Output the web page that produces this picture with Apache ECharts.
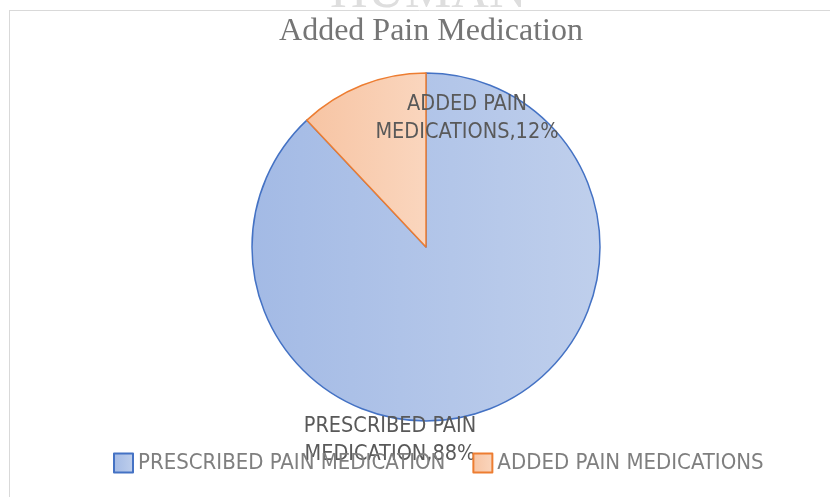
<!DOCTYPE html>
<html>
<head>
<meta charset="utf-8">
<script src="https://cdn.jsdelivr.net/npm/echarts@6/dist/echarts.min.js"></script>
<style>
  html, body { margin: 0; padding: 0; background: #fff; }
  #chart { width: 830px; height: 497px; }
</style>
</head>
<body>
<div id="chart"></div>
<script>
// data
var categories = ['PRESCRIBED PAIN MEDICATION', 'ADDED PAIN MEDICATIONS'];
var shares = [88, 12];
var titleText = 'Added Pain Medication';

var fills = [
  { from: '#a3bae5', to: '#bfcfec', stroke: '#4472c4' },
  { from: '#f7c4a3', to: '#fad6be', stroke: '#ed7d31' }
];
// where the data labels sit (label anchor, centre of text block)
var labelSpots = [[390, 440], [467, 118]];

var chart = echarts.init(document.getElementById('chart'));

var pieData = categories.map(function (name, i) {
  return {
    name: name,
    value: shares[i],
    itemStyle: {
      color: new echarts.graphic.LinearGradient(0, 0, 1, 0, [
        { offset: 0, color: fills[i].from },
        { offset: 1, color: fills[i].to }
      ]),
      borderColor: fills[i].stroke,
      borderWidth: 1.5
    }
  };
});

var labelFont = '"DejaVu Sans Condensed", "Liberation Sans Narrow", sans-serif';

var option = {
  backgroundColor: '#ffffff',
  animation: false,
  title: {
    text: titleText,
    left: 426,
    textAlign: 'center',
    top: 11,
    textStyle: {
      fontFamily: '"Liberation Serif", "Times New Roman", serif',
      fontSize: 32,
      fontWeight: 'normal',
      color: '#757575'
    }
  },
  legend: {
    orient: 'horizontal',
    left: 108,
    top: 447,
    icon: 'rect',
    itemWidth: 19,
    itemHeight: 19,
    itemGap: 27,
    textStyle: {
      fontFamily: labelFont,
      fontSize: 22,
      color: '#7f7f7f'
    },
    data: categories
  },
  graphic: [
    {
      type: 'text',
      left: 330,
      top: -33,
      z: -1,
      style: {
        text: 'HUMAN',
        font: '52px "Liberation Serif", serif',
        fill: '#dedede'
      }
    },
    {
      type: 'line',
      shape: { x1: 9, y1: 10.5, x2: 830, y2: 10.5 },
      style: { stroke: '#d9d9d9', lineWidth: 1 }
    },
    {
      type: 'line',
      shape: { x1: 9.5, y1: 10, x2: 9.5, y2: 497 },
      style: { stroke: '#d9d9d9', lineWidth: 1 }
    }
  ],
  series: [
    {
      type: 'pie',
      center: [426, 247],
      radius: 174,
      startAngle: 90,
      clockwise: true,
      percentPrecision: 0,
      label: {
        show: true,
        position: 'inside',
        fontFamily: labelFont,
        fontSize: 21.5,
        lineHeight: 28,
        color: '#595959',
        align: 'center',
        formatter: function (p) {
          return p.name.replace(/ (\S+)$/, '\n$1') + ',' + p.percent + '%';
        }
      },
      labelLine: { show: false },
      labelLayout: function (params) {
        var spot = labelSpots[params.dataIndex];
        return { x: spot[0], y: spot[1], align: 'center', verticalAlign: 'middle' };
      },
      emphasis: { disabled: true },
      data: pieData
    }
  ]
};

chart.setOption(option);
window.addEventListener('resize', function () {
  chart.resize();
});
</script>
</body>
</html>
